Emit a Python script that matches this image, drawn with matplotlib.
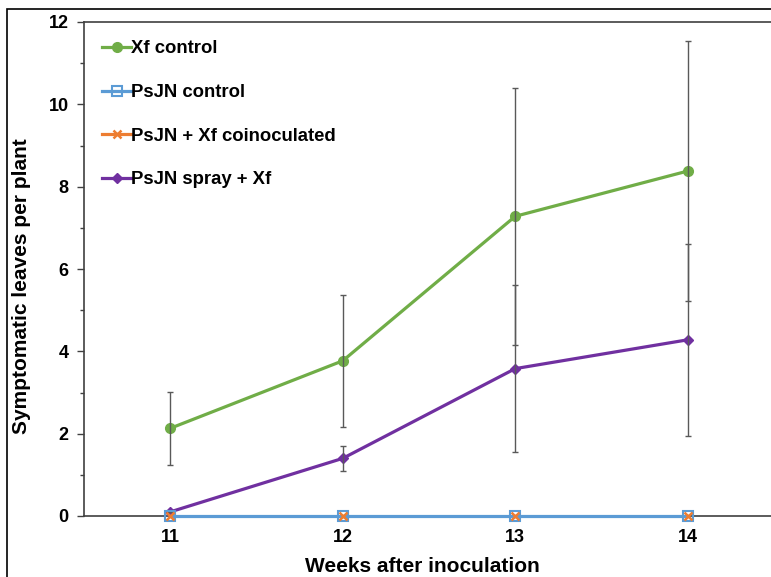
import matplotlib.pyplot as plt
from matplotlib.patches import Rectangle
from matplotlib.ticker import MultipleLocator

plt.rcParams['font.family'] = ['Liberation Sans', 'DejaVu Sans']
plt.rcParams['font.weight'] = 'bold'

# data
weeks = [11, 12, 13, 14]
xf_control = [2.13, 3.77, 7.28, 8.38]
xf_control_err = [0.88, 1.6, 3.12, 3.15]
psjn_control = [0, 0, 0, 0]
psjn_coinoc = [0, 0, 0, 0]
psjn_spray = [0.1, 1.4, 3.58, 4.28]
psjn_spray_err = [0.0, 0.3, 2.02, 2.33]

labels = ['Xf control', 'PsJN control', 'PsJN + Xf coinoculated', 'PsJN spray + Xf']
colors = ['#70AD47', '#5B9BD5', '#ED7D31', '#7030A0']

fig = plt.figure(figsize=(7.71, 5.77), dpi=100)
# outer frame
fig.patches.append(Rectangle((7 / 771, -0.05), 1.1, (577 - 9) / 577 + 0.05,
                             transform=fig.transFigure, fill=False,
                             edgecolor='black', linewidth=1.2))

ax = fig.add_axes([84 / 771, 61 / 577, 690 / 771, 494 / 577])

# error bars (gray, thin)
ax.errorbar(weeks, xf_control, yerr=xf_control_err, fmt='none', ecolor='#595959',
            elinewidth=1, capsize=2.5, zorder=4)
ax.errorbar(weeks, psjn_spray, yerr=psjn_spray_err, fmt='none', ecolor='#595959',
            elinewidth=1, capsize=2.5, zorder=4)

ax.plot(weeks, xf_control, color=colors[0], lw=2.3, marker='o', ms=7,
        label=labels[0], zorder=3)
ax.plot(weeks, psjn_control, color=colors[1], lw=2.3, marker='s', ms=6.5,
        mfc='none', mew=1.5, label=labels[1], zorder=5, clip_on=False)
ax.plot(weeks, psjn_coinoc, color=colors[2], lw=0, marker='x', ms=6,
        mew=1.8, label=labels[2], zorder=6, clip_on=False)
ax.plot(weeks, psjn_spray, color=colors[3], lw=2.3, marker='D', ms=5.5,
        label=labels[3], zorder=3)

# coinoculated legend handle with a line like the original
handles, labs = ax.get_legend_handles_labels()
handles[2] = plt.Line2D([], [], color=colors[2], lw=2.3, marker='x', ms=6, mew=1.8)

ax.set_xlim(10.5, 14.5)
ax.set_ylim(0, 12)
ax.set_xticks(weeks)
ax.yaxis.set_major_locator(MultipleLocator(2))
ax.yaxis.set_minor_locator(MultipleLocator(1))
ax.tick_params(axis='y', which='major', length=5, width=1, direction='out',
               labelsize=13, color='#404040', pad=6)
ax.tick_params(axis='y', which='minor', length=3, width=1, direction='out',
               color='#404040')
ax.tick_params(axis='x', length=0, labelsize=13, pad=9)
for lab in ax.get_xticklabels() + ax.get_yticklabels():
    lab.set_fontweight('bold')

for side in ['left', 'top', 'bottom']:
    ax.spines[side].set_color('#404040')
    ax.spines[side].set_linewidth(1.2)
ax.spines['right'].set_visible(False)

ax.set_xlabel('Weeks after inoculation', fontsize=15, fontweight='bold')
ax.xaxis.set_label_coords(0.491, -0.082)
ax.set_ylabel('Symptomatic leaves per plant', fontsize=15, fontweight='bold')
ax.yaxis.set_label_coords(-0.077, 0.465)

ax.legend(handles, labs, loc='upper left', bbox_to_anchor=(0.0, 1.0),
          frameon=False, handlelength=1.55, handletextpad=0.0,
          labelspacing=1.44, borderaxespad=0.6,
          prop={'weight': 'bold', 'size': 13.3})

fig.savefig('out.png', dpi=100)
